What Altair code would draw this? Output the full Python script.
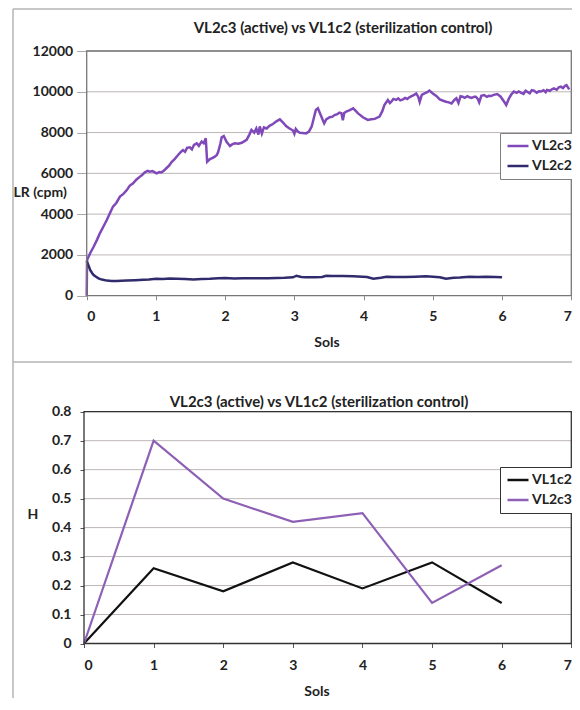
import altair as alt
import pandas as pd

TITLE = "VL2c3 (active) vs VL1c2 (sterilization control)"

# ---- Top chart: LR (cpm) vs Sols ----
VL2C3_LR = [
    (0.0, 0), (0.005, 1750), (0.05, 2080), (0.1, 2400), (0.15, 2750), (0.19, 3060),
    (0.24, 3380), (0.29, 3710), (0.34, 4080), (0.38, 4370), (0.43, 4560), (0.48, 4860),
    (0.53, 4990), (0.58, 5180), (0.62, 5390), (0.67, 5510), (0.72, 5700), (0.77, 5840),
    (0.8, 5920), (0.84, 6050), (0.88, 6120), (0.91, 6080), (0.95, 6110), (1.01, 6000),
    (1.05, 6060), (1.08, 6040), (1.12, 6150), (1.15, 6250), (1.19, 6380), (1.23, 6570),
    (1.27, 6700), (1.32, 6900), (1.36, 7050), (1.39, 7140), (1.42, 7060), (1.45, 7250),
    (1.49, 7280), (1.52, 7180), (1.55, 7400), (1.59, 7470), (1.62, 7350), (1.66, 7560),
    (1.69, 7480), (1.72, 7720), (1.74, 6570), (1.78, 6700), (1.82, 6760), (1.85, 6820),
    (1.88, 6900), (1.9, 7060), (1.93, 7450), (1.95, 7770), (1.98, 7830), (2.02, 7550),
    (2.07, 7340), (2.1, 7420), (2.14, 7470), (2.19, 7450), (2.24, 7500), (2.28, 7580),
    (2.31, 7640), (2.35, 7900), (2.38, 8130), (2.42, 8000), (2.45, 8200), (2.48, 7900),
    (2.5, 8300), (2.53, 7950), (2.56, 8250), (2.6, 8200), (2.64, 8330), (2.69, 8420),
    (2.74, 8550), (2.79, 8650), (2.84, 8480), (2.88, 8320), (2.93, 8200), (2.98, 8100),
    (3.0, 7940), (3.02, 8180), (3.05, 8050), (3.08, 7990), (3.12, 7980), (3.17, 7960),
    (3.21, 8050), (3.25, 8300), (3.28, 8700), (3.31, 9110), (3.34, 9190), (3.38, 8860),
    (3.43, 8450), (3.46, 8650), (3.51, 8750), (3.55, 8780), (3.58, 8860), (3.62, 8900),
    (3.65, 8980), (3.68, 8950), (3.7, 8600), (3.72, 8960), (3.75, 9030), (3.8, 9100),
    (3.85, 9190), (3.92, 8940), (3.99, 8750), (4.06, 8620), (4.11, 8650), (4.16, 8670),
    (4.23, 8780), (4.27, 9050), (4.3, 9350), (4.35, 9600), (4.38, 9450), (4.4, 9510),
    (4.43, 9650), (4.47, 9600), (4.5, 9680), (4.53, 9580), (4.57, 9630), (4.6, 9700),
    (4.63, 9650), (4.66, 9730), (4.7, 9800), (4.73, 9850), (4.76, 9920), (4.79, 9750),
    (4.81, 9500), (4.84, 9850), (4.88, 9920), (4.92, 9980), (4.95, 10060), (5.0, 9920),
    (5.05, 9800), (5.1, 9630), (5.15, 9560), (5.19, 9510), (5.23, 9480), (5.27, 9430),
    (5.31, 9600), (5.34, 9680), (5.37, 9450), (5.4, 9780), (5.43, 9760), (5.46, 9700),
    (5.5, 9780), (5.53, 9730), (5.56, 9700), (5.6, 9760), (5.62, 9760), (5.65, 9650),
    (5.67, 9480), (5.7, 9800), (5.74, 9840), (5.78, 9750), (5.81, 9800), (5.84, 9790),
    (5.88, 9850), (5.93, 9890), (5.98, 9760), (6.03, 9510), (6.06, 9350), (6.1, 9680),
    (6.14, 9900), (6.17, 10010), (6.21, 9950), (6.24, 10020), (6.27, 9960), (6.31, 9900),
    (6.34, 10050), (6.36, 10010), (6.4, 9930), (6.43, 10080), (6.46, 10060), (6.5, 9950),
    (6.53, 10020), (6.56, 10010), (6.6, 10080), (6.63, 9980), (6.65, 10090), (6.69, 10050),
    (6.72, 10120), (6.75, 10170), (6.79, 10100), (6.82, 10220), (6.85, 10250), (6.88, 10180),
    (6.91, 10300), (6.93, 10330), (6.97, 10120),
]

VL2C2_LR = [
    (0.0, 1700), (0.03, 1450), (0.05, 1260), (0.08, 1100), (0.1, 1010), (0.14, 920),
    (0.17, 850), (0.22, 790), (0.29, 740), (0.36, 725), (0.43, 720), (0.5, 730),
    (0.58, 740), (0.7, 760), (0.82, 785), (0.9, 800), (1.0, 830), (1.1, 820),
    (1.2, 840), (1.3, 830), (1.42, 820), (1.54, 800), (1.66, 820), (1.78, 830),
    (1.9, 850), (2.0, 870), (2.13, 840), (2.26, 850), (2.38, 860), (2.5, 850),
    (2.62, 860), (2.74, 870), (2.86, 880), (2.98, 900), (3.03, 980), (3.1, 920),
    (3.17, 900), (3.3, 910), (3.4, 920), (3.46, 980), (3.55, 970), (3.7, 960),
    (3.85, 950), (4.05, 915), (4.14, 830), (4.25, 880), (4.33, 930), (4.45, 920),
    (4.61, 915), (4.75, 930), (4.9, 950), (5.0, 930), (5.1, 900), (5.19, 830),
    (5.3, 880), (5.39, 890), (5.53, 930), (5.65, 920), (5.77, 930), (5.9, 920),
    (6.0, 900),
]

# ---- Bottom chart: H vs Sols ----
H_SOLS = [0, 1, 2, 3, 4, 5, 6]
H_VL1C2 = [0, 0.26, 0.18, 0.28, 0.19, 0.28, 0.14]
H_VL2C3 = [0, 0.70, 0.50, 0.42, 0.45, 0.14, 0.27]

X_TICKS = [0, 1, 2, 3, 4, 5, 6, 7]
LR_TICKS = [0, 2000, 4000, 6000, 8000, 10000, 12000]
H_TICKS = [0, 0.1, 0.2, 0.3, 0.4, 0.5, 0.6, 0.7, 0.8]

FONT = "Lato"
INK = "#222222"
PURPLE_TOP = "#8049b9"
NAVY = "#2f2b6c"
PURPLE_BOT = "#8d60b5"
BLACK = "#111111"
PANEL = "#b4b4b4"
GRID = "#bdb6b6"

CW, CH = 564, 690  # whole drawing (page coords minus the 8px margin)

# plot rectangles (left, top, right, bottom) in drawing coords
TL, TT, TR, TB = 78.7, 43.0, 563.3, 287.7
BL, BT, BR, BB = 76.0, 403.7, 563.3, 635.5

top_rows = [{"sol": s, "lr": v, "series": "VL2c3"} for s, v in VL2C3_LR] + \
           [{"sol": s, "lr": v, "series": "VL2c2"} for s, v in VL2C2_LR]
top_df = pd.DataFrame(top_rows)

bot_rows = [{"sol": s, "h": v, "series": "VL1c2"} for s, v in zip(H_SOLS, H_VL1C2)] + \
           [{"sol": s, "h": v, "series": "VL2c3"} for s, v in zip(H_SOLS, H_VL2C3)]
bot_df = pd.DataFrame(bot_rows)

TOP_X = alt.Scale(domain=[0, 7], range=[TL, TR], nice=False, zero=False)
TOP_Y = alt.Scale(domain=[0, 12000], range=[TB, TT], nice=False, zero=False)
BOT_X = alt.Scale(domain=[0, 7], range=[BL, BR], nice=False, zero=False)
BOT_Y = alt.Scale(domain=[0, 0.8], range=[BB, BT], nice=False, zero=False)

LBL = dict(labelFont=FONT, labelFontSize=14, labelFontWeight="bold", labelColor=INK)


def one():
    return pd.DataFrame({"k": [0]})


def text(t, x, y, size=14, align="center", baseline="middle"):
    return alt.Chart(pd.DataFrame({"t": [t]})).mark_text(
        font=FONT, fontSize=size, fontWeight="bold", color=INK,
        align=align, baseline=baseline,
    ).encode(text="t:N", x=alt.value(x), y=alt.value(y))


def rule(x1, y1, x2, y2, color, width):
    return alt.Chart(one()).mark_rule(color=color, strokeWidth=width).encode(
        x=alt.value(x1), y=alt.value(y1), x2=alt.value(x2), y2=alt.value(y2)
    )


def frame(l, t, r, b, color, width):
    return alt.Chart(one()).mark_rect(fillOpacity=0, stroke=color, strokeWidth=width).encode(
        x=alt.value(l), x2=alt.value(r), y=alt.value(t), y2=alt.value(b)
    )


def grid(ticks, field, scale, l, r):
    return alt.Chart(pd.DataFrame({field: ticks})).mark_rule(color=GRID, strokeWidth=1).encode(
        y=alt.Y(f"{field}:Q", scale=scale, axis=None), x=alt.value(l), x2=alt.value(r)
    )


def legend(x, y, stroke):
    return alt.Legend(
        title=None, orient="none", legendX=x, legendY=y,
        fillColor="white", strokeColor=stroke, padding=3,
        symbolType="stroke", symbolSize=441, symbolStrokeWidth=2.5,
        clipHeight=20, rowPadding=0, labelOffset=2, symbolOffset=3,
        **LBL,
    )


top_lines = alt.Chart(top_df).mark_line(strokeWidth=2.5).encode(
    x=alt.X("sol:Q", scale=TOP_X,
            axis=alt.Axis(orient="bottom", offset=-(CH - TB), values=X_TICKS, format="d",
                          grid=False, domain=False, tickSize=4, tickColor="#8a8a8a",
                          labelPadding=10, title=None, **LBL)),
    y=alt.Y("lr:Q", scale=TOP_Y,
            axis=alt.Axis(orient="left", offset=-TL, values=LR_TICKS, format="d",
                          grid=False, domain=False, tickSize=10, tickColor="#a8a8a8",
                          labelPadding=4, title=None, **LBL)),
    color=alt.Color("series:N",
                    scale=alt.Scale(domain=["VL2c3", "VL2c2"], range=[PURPLE_TOP, NAVY]),
                    legend=legend(492, 125, "#808080")),
)

bot_lines = alt.Chart(bot_df).mark_line(strokeWidth=2.2).encode(
    x=alt.X("sol:Q", scale=BOT_X,
            axis=alt.Axis(orient="bottom", offset=-(CH - BB), values=X_TICKS, format="d",
                          grid=False, domain=False, tickSize=4, tickColor="#555555",
                          labelPadding=11, title=None, **LBL)),
    y=alt.Y("h:Q", scale=BOT_Y,
            axis=alt.Axis(orient="left", offset=-BL, values=H_TICKS, format=".1~f",
                          grid=False, domain=False, tickSize=4, tickColor="#555555",
                          labelPadding=9, title=None, **LBL)),
    color=alt.Color("series:N",
                    scale=alt.Scale(domain=["VL1c2", "VL2c3"], range=[BLACK, PURPLE_BOT]),
                    legend=legend(492, 459, "#333333")),
)

PX = 5.0  # panel border left edge
chart = alt.layer(
    # panel borders
    rule(PX, 1, CW, 1, PANEL, 1.5),
    rule(PX, 1, PX, CH, PANEL, 1.5),
    rule(PX, 354, CW, 354, PANEL, 1.5),
    # top chart
    grid(LR_TICKS[1:], "g1", TOP_Y, TL, TR),
    top_lines,
    frame(TL, TT, TR, TB, "#777777", 1.3),
    text(TITLE, 335, 20, size=15),
    text("LR (cpm)", PX + 0.6, 185.3, align="left"),
    text("Sols", 319, 335),
    # bottom chart
    grid(H_TICKS[1:], "g2", BOT_Y, BL, BR),
    bot_lines,
    frame(BL, BT, BR, BB, "#333333", 1.3),
    text(TITLE, 311, 393.7, size=15),
    text("H", 25, 507),
    text("Sols", 309, 683.5),
).resolve_scale(
    x="independent", y="independent", color="independent"
).properties(
    width=CW, height=CH,
    autosize=alt.AutoSizeParams(type="none"),
    padding=0,
    background="white",
).configure_view(strokeOpacity=0)

chart.save("out.html", embed_options={"renderer": "svg", "actions": False})
